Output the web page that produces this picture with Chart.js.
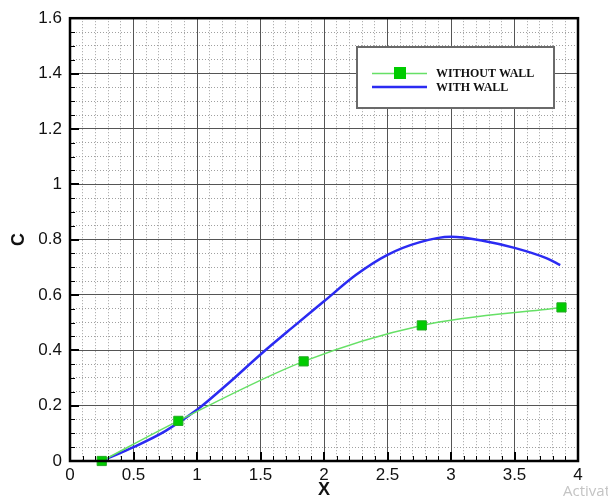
<!DOCTYPE html>
<html>
<head>
<meta charset="utf-8">
<script src="https://cdn.jsdelivr.net/npm/chart.js@4/dist/chart.umd.min.js"></script>
<style>
  html, body { margin: 0; padding: 0; background: #fff; overflow: hidden; }
  #wrap { position: relative; width: 608px; height: 501px; }
  #mark { position: absolute; left: 563px; top: 480px; font: 15px "Open Sans", sans-serif; color: #c4c4c4; white-space: nowrap; }
</style>
</head>
<body>
<div id="wrap">
  <canvas id="c-chart" width="608" height="501"></canvas>
  <div id="mark">Activate Windows</div>
</div>
<script>
document.addEventListener('DOMContentLoaded', () => {

    const withoutWallX = [0.25, 0.853, 1.84, 2.77, 3.87];
    const withoutWallC = [0, 0.145, 0.36, 0.49, 0.555];

    const withWallX = [0.25, 0.5, 0.75, 1.0, 1.25, 1.5, 1.75, 2.0, 2.25, 2.5, 2.75, 3.0, 3.25, 3.5, 3.75, 3.86];
    const withWallC = [0, 0.05, 0.108, 0.185, 0.282, 0.385, 0.482, 0.577, 0.672, 0.745, 0.79, 0.81, 0.796, 0.77, 0.733, 0.708];

    const legendLabels = ['WITHOUT WALL', 'WITH WALL'];

    const toPoints = (xs, ys) => xs.map((x, i) => ({x: x, y: ys[i]}));
    const fmt = v => String(+Number(v).toFixed(2));

    const greenLine = '#66e066';
    const greenMark = '#00cc00';
    const blueLine = '#2b2bf2';

    // frame, inward tick marks and the boxed legend
    const framePlugin = {
        id: 'frame',
        afterDraw(chart) {
            const ctx = chart.ctx;
            const a = chart.chartArea;
            const xs = chart.scales.x, ys = chart.scales.y;
            const xm = chart.scales.xMinor, ym = chart.scales.yMinor;
            ctx.save();
            ctx.strokeStyle = '#000';
            ctx.lineWidth = 1;
            xm.ticks.forEach(t => {
                const px = Math.round(xm.getPixelForValue(t.value)) + 0.5;
                ctx.beginPath(); ctx.moveTo(px, a.bottom); ctx.lineTo(px, a.bottom - 5); ctx.stroke();
            });
            ym.ticks.forEach(t => {
                const py = Math.round(ym.getPixelForValue(t.value)) + 0.5;
                ctx.beginPath(); ctx.moveTo(a.left, py); ctx.lineTo(a.left + 5, py); ctx.stroke();
            });
            ctx.lineWidth = 2;
            xs.ticks.forEach(t => {
                const px = Math.round(xs.getPixelForValue(t.value));
                ctx.beginPath(); ctx.moveTo(px, a.bottom); ctx.lineTo(px, a.bottom - 9); ctx.stroke();
            });
            ys.ticks.forEach(t => {
                const py = Math.round(ys.getPixelForValue(t.value));
                ctx.beginPath(); ctx.moveTo(a.left, py); ctx.lineTo(a.left + 9, py); ctx.stroke();
            });
            ctx.lineWidth = 2.5;
            ctx.strokeRect(a.left, a.top, a.right - a.left, a.bottom - a.top);

            // legend box
            ctx.fillStyle = '#fff';
            ctx.fillRect(357, 47, 197, 61);
            ctx.strokeStyle = '#6a6a6a';
            ctx.lineWidth = 2;
            ctx.strokeRect(357, 47, 197, 61);

            ctx.strokeStyle = greenLine;
            ctx.lineWidth = 1.5;
            ctx.beginPath(); ctx.moveTo(372, 73.5); ctx.lineTo(427, 73.5); ctx.stroke();
            ctx.fillStyle = greenMark;
            ctx.fillRect(394, 67, 12, 12);

            ctx.strokeStyle = blueLine;
            ctx.lineWidth = 2.5;
            ctx.beginPath(); ctx.moveTo(372, 87); ctx.lineTo(427, 87); ctx.stroke();

            ctx.fillStyle = '#111';
            ctx.font = 'bold 12px "Liberation Serif", serif';
            ctx.textBaseline = 'middle';
            ctx.fillText(legendLabels[0], 436, 74);
            ctx.fillText(legendLabels[1], 436, 88);
            ctx.restore();
        }
    };

    const minorGrid = { color: '#a0a0a0', lineWidth: 1, drawTicks: false, z: -1 };
    const minorBorder = { display: false, dash: [1, 2] };
    const tickFont = { family: '"Liberation Sans", Arial, sans-serif', size: 17 };
    const titleFont = { family: '"Liberation Sans", Arial, sans-serif', size: 18, weight: 'bold' };

    const ctx = document.getElementById('c-chart').getContext('2d');
    new Chart(ctx, {
        type: 'scatter',
        data: {
            datasets: [{
                label: legendLabels[0],
                data: toPoints(withoutWallX, withoutWallC),
                showLine: true,
                borderColor: greenLine,
                borderWidth: 1.5,
                cubicInterpolationMode: 'monotone',
                pointStyle: 'rect',
                pointRadius: 6.5,
                pointBackgroundColor: greenMark,
                pointBorderColor: '#22aa22',
                pointBorderWidth: 1,
                clip: false
            }, {
                label: legendLabels[1],
                data: toPoints(withWallX, withWallC),
                showLine: true,
                borderColor: blueLine,
                borderWidth: 2.5,
                cubicInterpolationMode: 'monotone',
                pointRadius: 0
            }]
        },
        options: {
            responsive: false,
            devicePixelRatio: 1,
            animation: false,
            layout: { padding: { top: 16, right: 30, left: 0, bottom: 0 } },
            plugins: {
                legend: { display: false },
                tooltip: { enabled: false }
            },
            scales: {
                xMinor: {
                    type: 'linear', position: 'bottom', min: 0, max: 4,
                    ticks: { display: false, stepSize: 0.1 },
                    grid: minorGrid,
                    border: minorBorder,
                    afterFit: s => { s.height = 0; }
                },
                yMinor: {
                    type: 'linear', position: 'left', min: 0, max: 1.6,
                    ticks: { display: false, stepSize: 0.05 },
                    grid: minorGrid,
                    border: minorBorder,
                    afterFit: s => { s.width = 0; }
                },
                x: {
                    type: 'linear', position: 'bottom', min: 0, max: 4,
                    ticks: { stepSize: 0.5, padding: 4, color: '#111', font: tickFont, callback: fmt },
                    grid: { color: '#555', lineWidth: 1, drawTicks: false },
                    border: { display: false },
                    title: { display: true, text: 'X', color: '#111', padding: 0, font: titleFont },
                    afterFit: s => { s.height = 40; }
                },
                y: {
                    type: 'linear', position: 'left', min: 0, max: 1.6,
                    ticks: { stepSize: 0.2, padding: 8, color: '#111', font: tickFont, callback: fmt },
                    grid: { color: '#555', lineWidth: 1, drawTicks: false },
                    border: { display: false },
                    title: { display: true, text: 'C', color: '#111', padding: 8, font: titleFont },
                    afterFit: s => { s.width = 70; }
                }
            }
        },
        plugins: [framePlugin]
    });
});
</script>
</body>
</html>
